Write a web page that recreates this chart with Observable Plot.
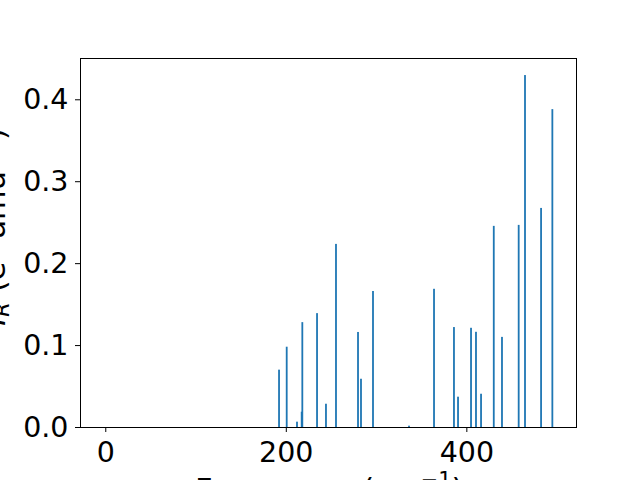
<!DOCTYPE html>
<html>
<head>
<meta charset="utf-8">
<script src="https://cdn.jsdelivr.net/npm/d3@7"></script>
<script src="https://cdn.jsdelivr.net/npm/@observablehq/plot@0.6"></script>
<style>
  html, body { margin: 0; padding: 0; background: #fff; }
</style>
</head>
<body>
<div id="chart"></div>
<script>
const frequencies = [192.5, 201, 212.4, 217.6, 218.3, 234.6, 244.5, 255.6, 280, 283.3, 296.6,
  336.5, 364.2, 386.3, 390.8, 405.2, 410.7, 416.3, 430.4, 439.5, 458, 465, 482.8, 495.3];
const intensities = [0.070, 0.098, 0.0065, 0.0187, 0.128, 0.139, 0.0284, 0.2235, 0.116, 0.0589, 0.166,
  0.0016, 0.1687, 0.122, 0.037, 0.1211, 0.1162, 0.0406, 0.2455, 0.110, 0.2467, 0.4296, 0.2674, 0.388];
const xTicks = [0, 200, 400];
const yTicks = [0, 0.1, 0.2, 0.3, 0.4];

const data = frequencies.map((f, i) => ({f, v: intensities[i]}));
const barWidth = 2;

const W = 640, H = 480;
const mL = 80, mR = 64, mT = 58, mB = 53;
const FS = 28.5;   // tick label size
const LFS = 30.5;  // axis label size
const SUP = 21;    // super/subscript size

const plot = Plot.plot({
  width: W, height: H,
  marginLeft: mL, marginRight: mR, marginTop: mT, marginBottom: mB,
  style: {fontFamily: "'DejaVu Sans', sans-serif", fontSize: FS + "px", color: "black", background: "white"},
  x: {domain: [-28, 521.5]},
  y: {domain: [0, 0.4504]},
  marks: [
    Plot.rectY(data, {x1: d => d.f - barWidth / 2, x2: d => d.f + barWidth / 2, y1: 0, y2: "v", fill: "#1f77b4"}),
    Plot.frame({stroke: "black", strokeWidth: 1}),
    Plot.axisX({ticks: xTicks, tickSize: 5, tickPadding: 9, label: null, tickFormat: d3.format("d"), strokeWidth: 1}),
    Plot.axisY({ticks: yTicks, tickSize: 5, tickPadding: 7, label: null, tickFormat: d3.format(".1f"), strokeWidth: 1})
  ]
});

const svg = d3.select(plot);

const xl = svg.append("text")
  .attr("x", 195).attr("y", 499.5)
  .attr("text-anchor", "start")
  .attr("font-family", "'DejaVu Sans', sans-serif")
  .attr("font-size", LFS)
  .attr("fill", "black");
xl.append("tspan").text("Frequency (cm");
xl.append("tspan").attr("dy", -13).attr("font-size", SUP).text("\u22121");
xl.append("tspan").attr("dy", 13).text(")");

const yl = svg.append("text")
  .attr("transform", `translate(5,128) rotate(-90)`)
  .attr("text-anchor", "end")
  .attr("font-family", "'DejaVu Sans', sans-serif")
  .attr("font-size", LFS)
  .attr("fill", "black");
yl.append("tspan").attr("font-style", "italic").text("I");
yl.append("tspan").attr("font-style", "italic").attr("dy", 4).attr("font-size", SUP).text("R");
yl.append("tspan").attr("dy", -4).text(" (e");
yl.append("tspan").attr("dy", -13).attr("font-size", SUP).text("2");
yl.append("tspan").attr("dy", 13).text(" amu");
yl.append("tspan").attr("dy", -13).attr("font-size", SUP).text("\u22121");
yl.append("tspan").attr("dy", 13).text(")");

document.getElementById("chart").appendChild(plot);
</script>
</body>
</html>
